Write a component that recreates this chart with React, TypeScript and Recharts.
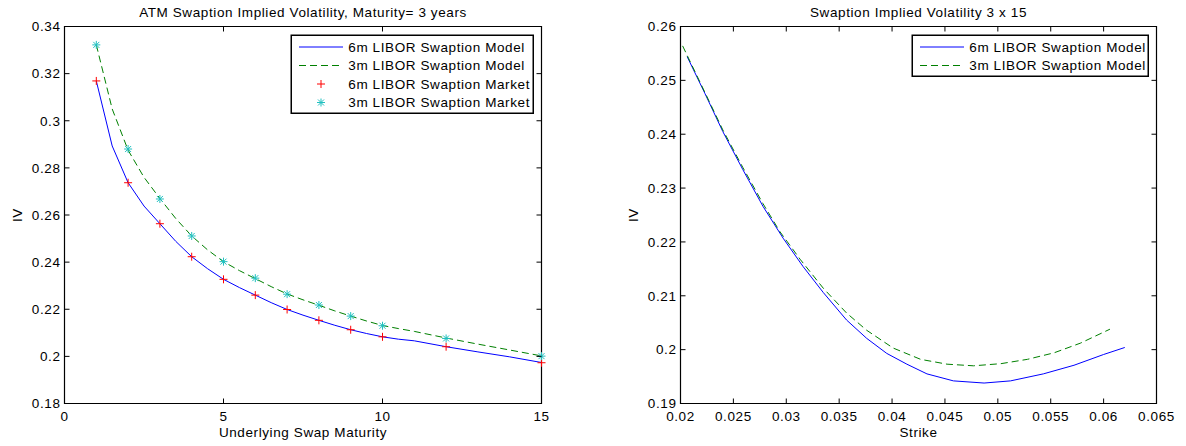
import { ComposedChart, LineChart, Line, Scatter, XAxis, YAxis, ReferenceArea, Label } from 'recharts';

// ATM swaption vols, expiry 3y, by underlying swap maturity
const maturities = [1, 2, 3, 4, 5, 6, 7, 8, 9, 10, 12, 15];
const market6m = [0.3169, 0.2737, 0.2563, 0.2423, 0.2327, 0.2260, 0.2199, 0.2153, 0.2113, 0.2083, 0.2041, 0.1973];
const market3m = [0.3322, 0.2880, 0.2668, 0.2511, 0.2402, 0.2332, 0.2264, 0.2218, 0.2171, 0.2130, 0.2076, 0.2001];

const modelMaturities = [1, 1.5, 2, 2.5, 3, 3.5, 4, 4.5, 5, 5.5, 6, 6.5, 7, 7.5, 8, 8.5, 9, 9.5, 10, 10.5, 11, 12, 13, 14, 15];
const model6m = [0.3169, 0.2893, 0.2737, 0.2638, 0.2563, 0.2488, 0.2423, 0.2372, 0.2327, 0.2292, 0.2260, 0.2228, 0.2199, 0.2175, 0.2153, 0.2132, 0.2113, 0.2097, 0.2083, 0.2073, 0.2066, 0.2041, 0.2019, 0.1998, 0.1974];
const model3m = [0.3322, 0.3050, 0.2875, 0.2760, 0.2670, 0.2585, 0.2511, 0.2452, 0.2402, 0.2364, 0.2330, 0.2296, 0.2265, 0.2240, 0.2217, 0.2193, 0.2171, 0.2150, 0.2131, 0.2118, 0.2106, 0.2078, 0.2052, 0.2027, 0.2002];

// 3 x 15 smile
const strikes6m = [0.02063, 0.0223, 0.0240, 0.0259, 0.0278, 0.0297, 0.0316, 0.0335, 0.0357, 0.0376, 0.0395, 0.0414, 0.0433, 0.0458, 0.0487, 0.0512, 0.0543, 0.0572, 0.0600, 0.0620];
const smile6m = [0.2544, 0.2476, 0.2405, 0.2334, 0.2266, 0.2207, 0.2154, 0.2106, 0.2055, 0.2021, 0.1993, 0.1973, 0.1955, 0.1942, 0.1938, 0.1942, 0.1955, 0.1971, 0.1991, 0.2004];
const strikes3m = [0.0202, 0.0223, 0.0240, 0.0259, 0.0278, 0.0294, 0.0313, 0.0335, 0.0357, 0.0376, 0.0401, 0.0427, 0.0452, 0.0477, 0.0503, 0.0528, 0.0553, 0.0578, 0.0606];
const smile3m = [0.2564, 0.2478, 0.2408, 0.2338, 0.2271, 0.2219, 0.2168, 0.2114, 0.2068, 0.2036, 0.2003, 0.1982, 0.1973, 0.1970, 0.1974, 0.1982, 0.1994, 0.2012, 0.2038];

const maturityTicks = [0, 5, 10, 15];
const ivTicksLeft = [0.18, 0.2, 0.22, 0.24, 0.26, 0.28, 0.3, 0.32, 0.34];
const strikeTicks = [0.02, 0.025, 0.03, 0.035, 0.04, 0.045, 0.05, 0.055, 0.06, 0.065];
const ivTicksRight = [0.19, 0.2, 0.21, 0.22, 0.23, 0.24, 0.25, 0.26];

const toPts = (xs: number[], ys: number[]) => xs.map((x, i) => ({ x, iv: ys[i] }));

const FONT = "'Liberation Sans', Arial, Helvetica, sans-serif";
const FS = 13.5;
const LS = 0.6;
const fmt = (v: number) => String(parseFloat(v.toFixed(4)));

const PT = 26.5;

const xTick = (top: number) => (p: any) => (
  <g>
    <line x1={p.x} x2={p.x} y1={p.y} y2={p.y - 5} stroke="#000" />
    <line x1={p.x} x2={p.x} y1={top} y2={top + 5} stroke="#000" />
    <text x={p.x} y={p.y + 17.5} textAnchor="middle" fontSize={FS} fontFamily={FONT} fill="#000" style={{ letterSpacing: LS }}>
      {fmt(p.payload.value)}
    </text>
  </g>
);

const yTick = (right: number) => (p: any) => (
  <g>
    <line x1={p.x} x2={p.x + 5} y1={p.y} y2={p.y} stroke="#000" />
    <line x1={right} x2={right - 5} y1={p.y} y2={p.y} stroke="#000" />
    <text x={p.x - 4} y={p.y + 4.8} textAnchor="end" fontSize={FS} fontFamily={FONT} fill="#000" style={{ letterSpacing: LS }}>
      {fmt(p.payload.value)}
    </text>
  </g>
);

const ivLabel = ({ viewBox }: any) => {
  const cx = viewBox.x + viewBox.width - 47.5;
  const cy = viewBox.y + viewBox.height / 2;
  return (
    <text x={cx} y={cy} transform={`rotate(-90 ${cx} ${cy})`} textAnchor="middle" dy={4.8} fontSize={FS} fontFamily={FONT} fill="#000" style={{ letterSpacing: LS }}>
      IV
    </text>
  );
};

const Plus = ({ cx, cy }: any) => (
  <g stroke="#ff0000" strokeWidth={1}>
    <line x1={cx - 4} x2={cx + 4} y1={cy} y2={cy} />
    <line x1={cx} x2={cx} y1={cy - 4} y2={cy + 4} />
  </g>
);

const Star = ({ cx, cy }: any) => (
  <g stroke="#20c0c0" strokeWidth={1}>
    <line x1={cx - 4} x2={cx + 4} y1={cy} y2={cy} />
    <line x1={cx} x2={cx} y1={cy - 4} y2={cy + 4} />
    <line x1={cx - 3} x2={cx + 3} y1={cy - 3} y2={cy + 3} />
    <line x1={cx - 3} x2={cx + 3} y1={cy + 3} y2={cy - 3} />
  </g>
);

const txt = { fontSize: FS, fontFamily: FONT, fill: '#000', style: { letterSpacing: LS } };

function LeftChart() {
  return (
    <ComposedChart width={600} height={446} margin={{ top: PT, right: 58.5, bottom: 0, left: 24.5 }}>
      <XAxis dataKey="x" type="number" domain={[0, 15]} ticks={maturityTicks} height={42.5} tickSize={0} tickMargin={0}
        tickLine={false} axisLine={false} tick={xTick(PT)}>
        <Label value="Underlying Swap Maturity" position="insideBottom" offset={9} {...txt} />
      </XAxis>
      <YAxis type="number" domain={[0.18, 0.34]} ticks={ivTicksLeft} width={40} tickSize={0} tickMargin={0}
        tickLine={false} axisLine={false} tick={yTick(541.5)}>
        <Label content={ivLabel} />
      </YAxis>
      <ReferenceArea x1={0} x2={15} y1={0.18} y2={0.34} fill="none" stroke="#000" strokeWidth={1.2} />
      <Line data={toPts(modelMaturities, model6m)} dataKey="iv" stroke="#0000ff" strokeWidth={1} dot={false} isAnimationActive={false} />
      <Line data={toPts(modelMaturities, model3m)} dataKey="iv" stroke="#008000" strokeWidth={1} strokeDasharray="7 4" dot={false} isAnimationActive={false} />
      <Scatter data={toPts(maturities, market6m)} dataKey="iv" shape={<Plus />} isAnimationActive={false} />
      <Scatter data={toPts(maturities, market3m)} dataKey="iv" shape={<Star />} isAnimationActive={false} />
    </ComposedChart>
  );
}

function RightChart() {
  return (
    <LineChart width={586} height={446} margin={{ top: PT, right: 29.5, bottom: 0, left: 40.5 }}>
      <XAxis dataKey="x" type="number" domain={[0.02, 0.065]} ticks={strikeTicks} height={42.5} tickSize={0} tickMargin={0}
        tickLine={false} axisLine={false} tick={xTick(PT)}>
        <Label value="Strike" position="insideBottom" offset={9} {...txt} />
      </XAxis>
      <YAxis type="number" domain={[0.19, 0.26]} ticks={ivTicksRight} width={40} tickSize={0} tickMargin={0}
        tickLine={false} axisLine={false} tick={yTick(556.5)}>
        <Label content={ivLabel} />
      </YAxis>
      <ReferenceArea x1={0.02} x2={0.065} y1={0.19} y2={0.26} fill="none" stroke="#000" strokeWidth={1.2} />
      <Line data={toPts(strikes6m, smile6m)} dataKey="iv" stroke="#0000ff" strokeWidth={1} dot={false} isAnimationActive={false} />
      <Line data={toPts(strikes3m, smile3m)} dataKey="iv" stroke="#008000" strokeWidth={1} strokeDasharray="7 4" dot={false} isAnimationActive={false} />
    </LineChart>
  );
}

const legendRows = (rows: { label: string; kind: string }[]) =>
  rows.map((r, i) => {
    const y = 12.5 + i * 18.5;
    return (
      <g key={r.label}>
        {r.kind === 'solid' && <line x1={8.5} x2={52.5} y1={y} y2={y} stroke="#0000ff" />}
        {r.kind === 'dash' && <line x1={8.5} x2={52.5} y1={y} y2={y} stroke="#008000" strokeDasharray="7 4" />}
        {r.kind === 'plus' && <Plus cx={30.5} cy={y} />}
        {r.kind === 'star' && <Star cx={30.5} cy={y} />}
        <text x={57.8} y={y + 4.8} {...txt}>{r.label}</text>
      </g>
    );
  });

export default function App() {
  return (
    <div style={{ position: 'absolute', left: 0, top: 0, width: 1186, height: 446, background: '#fff' }}>
      <div style={{ position: 'absolute', left: 0, top: 0 }}>
        <LeftChart />
      </div>
      <div style={{ position: 'absolute', left: 600, top: 0 }}>
        <RightChart />
      </div>
      <svg width={1186} height={446} style={{ position: 'absolute', left: 0, top: 0, pointerEvents: 'none' }}>
        <text x={303} y={17} textAnchor="middle" {...txt}>ATM Swaption Implied Volatility, Maturity= 3 years</text>
        <text x={918.5} y={17} textAnchor="middle" {...txt}>Swaption Implied Volatility 3 x 15</text>
        <g transform="translate(290.5 34.5)">
          <rect x={0.75} y={0.75} width={242} height={78} fill="#fff" stroke="#000" strokeWidth={1.5} />
          {legendRows([
            { label: '6m LIBOR Swaption Model', kind: 'solid' },
            { label: '3m LIBOR Swaption Model', kind: 'dash' },
            { label: '6m LIBOR Swaption Market', kind: 'plus' },
            { label: '3m LIBOR Swaption Market', kind: 'star' },
          ])}
        </g>
        <g transform="translate(911.5 34.5)">
          <rect x={0.75} y={0.75} width={236} height={41} fill="#fff" stroke="#000" strokeWidth={1.5} />
          {legendRows([
            { label: '6m LIBOR Swaption Model', kind: 'solid' },
            { label: '3m LIBOR Swaption Model', kind: 'dash' },
          ])}
        </g>
      </svg>
    </div>
  );
}
